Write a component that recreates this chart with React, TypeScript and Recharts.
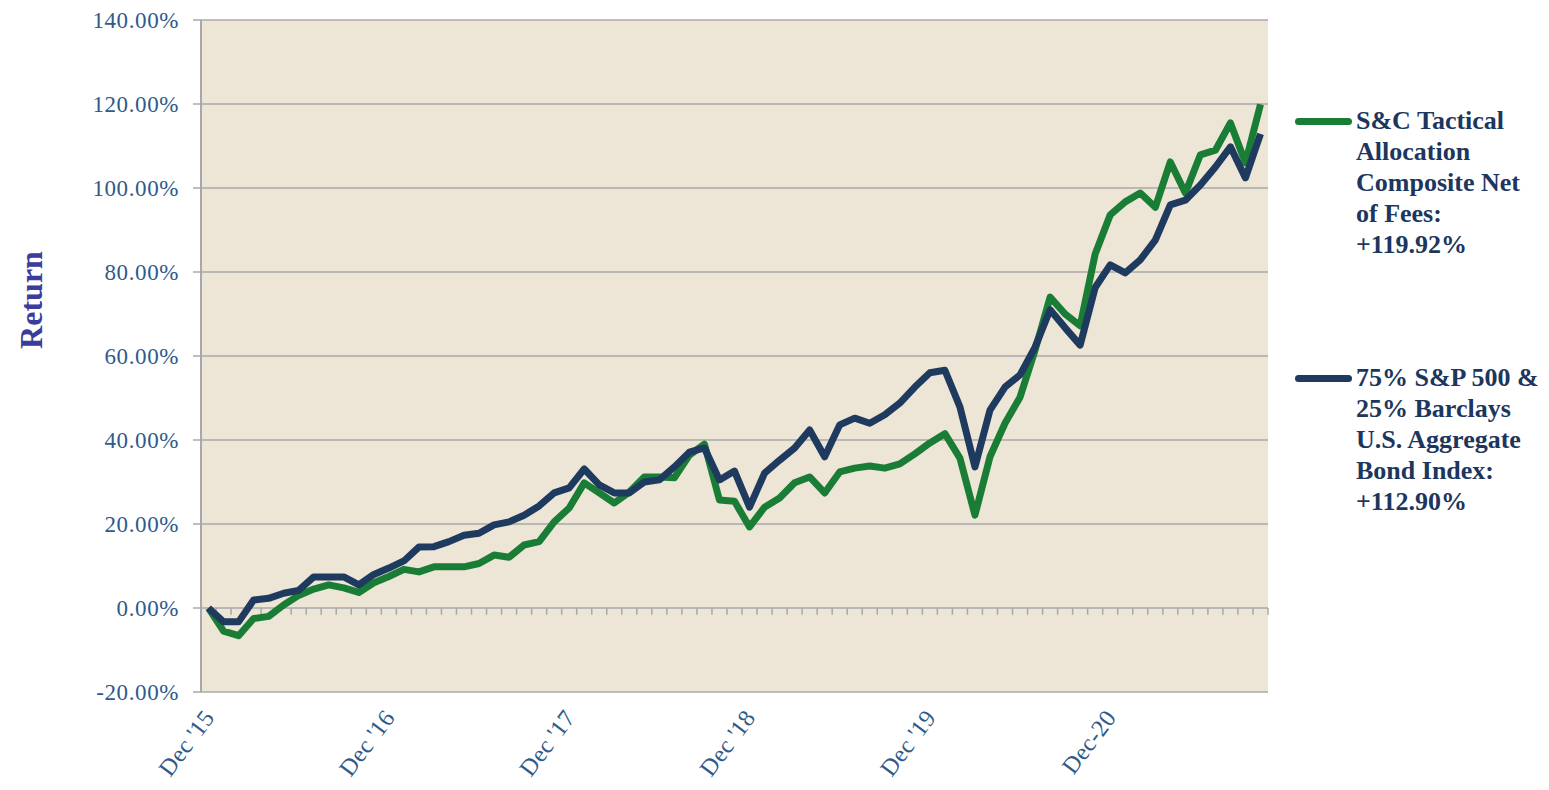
import React from 'react';
import { LineChart, Line, XAxis, YAxis, CartesianGrid, ReferenceLine } from 'recharts';

const months = [
  'Dec-15',
  'Jan-16', 'Feb-16', 'Mar-16', 'Apr-16', 'May-16', 'Jun-16', 'Jul-16', 'Aug-16', 'Sep-16', 'Oct-16', 'Nov-16', 'Dec-16',
  'Jan-17', 'Feb-17', 'Mar-17', 'Apr-17', 'May-17', 'Jun-17', 'Jul-17', 'Aug-17', 'Sep-17', 'Oct-17', 'Nov-17', 'Dec-17',
  'Jan-18', 'Feb-18', 'Mar-18', 'Apr-18', 'May-18', 'Jun-18', 'Jul-18', 'Aug-18', 'Sep-18', 'Oct-18', 'Nov-18', 'Dec-18',
  'Jan-19', 'Feb-19', 'Mar-19', 'Apr-19', 'May-19', 'Jun-19', 'Jul-19', 'Aug-19', 'Sep-19', 'Oct-19', 'Nov-19', 'Dec-19',
  'Jan-20', 'Feb-20', 'Mar-20', 'Apr-20', 'May-20', 'Jun-20', 'Jul-20', 'Aug-20', 'Sep-20', 'Oct-20', 'Nov-20', 'Dec-20',
  'Jan-21', 'Feb-21', 'Mar-21', 'Apr-21', 'May-21', 'Jun-21', 'Jul-21', 'Aug-21', 'Sep-21', 'Oct-21',
];

const composite = [
  0, -5.5, -6.6, -2.5, -2.0, 0.7, 3.0, 4.5, 5.5, 4.8, 3.7, 6.0, 7.5,
  9.2, 8.6, 9.8, 9.8, 9.8, 10.6, 12.6, 12.1, 15.0, 15.8, 20.5, 23.8,
  29.8, 27.4, 25.0, 27.6, 31.2, 31.2, 31.0, 36.4, 39.0, 25.7, 25.4, 19.3,
  24.0, 26.2, 29.8, 31.2, 27.4, 32.4, 33.3, 33.8, 33.3, 34.3, 36.7, 39.3,
  41.5, 35.7, 22.1, 36.0, 44.0, 50.2, 61.4, 74.0, 70.0, 67.2, 84.3, 93.6,
  96.7, 98.8, 95.4, 106.2, 98.8, 107.9, 109.0, 115.5, 106.0, 119.92,
];

const benchmark = [
  0, -3.3, -3.3, 1.9, 2.3, 3.5, 4.2, 7.4, 7.4, 7.4, 5.5, 8.0, 9.5,
  11.2, 14.5, 14.6, 15.8, 17.3, 17.8, 19.8, 20.5, 22.1, 24.3, 27.4, 28.6,
  33.1, 29.3, 27.4, 27.4, 30.0, 30.5, 33.6, 37.1, 38.1, 30.5, 32.6, 24.0,
  32.1, 35.2, 38.1, 42.4, 36.0, 43.6, 45.2, 44.0, 46.0, 48.8, 52.6, 56.0,
  56.6, 47.9, 33.6, 47.1, 52.6, 55.5, 62.1, 71.0, 66.7, 62.6, 76.3, 81.7,
  79.8, 82.9, 87.6, 96.0, 97.1, 100.7, 105.0, 109.8, 102.4, 112.9,
];

const yTicks = [-20, 0, 20, 40, 60, 80, 100, 120, 140];
const xTickIndex = [0, 12, 24, 36, 48, 60];
const xTickLabels = ["Dec '15", "Dec '16", "Dec '17", "Dec '18", "Dec '19", 'Dec-20'];

const legendComposite = ['S&C Tactical', 'Allocation', 'Composite Net', 'of Fees:', '+119.92%'];
const legendBenchmark = ['75% S&P 500 &', '25% Barclays', 'U.S. Aggregate', 'Bond Index:', '+112.90%'];

const data = months.map((m, i) => ({ idx: i, month: m, composite: composite[i], benchmark: benchmark[i] }));
const boundaries = [...months.map((_, i) => i - 0.5), months.length - 0.5];

const GREEN = '#1A7D35';
const NAVY = '#1F3A5F';
const GRID = '#A8A8A8';
const TICK_TEXT = '#2F5A8A';
const FONT = '"Liberation Serif", "Times New Roman", serif';

const XTick = (props: any) => {
  const { x, y, payload } = props;
  const pos = xTickIndex.indexOf(payload.value);
  const label = pos >= 0 ? xTickLabels[pos] : '';
  return (
    <g transform={`translate(${x + 7},${y + 18})`}>
      <text x={0} y={0} textAnchor="end" transform="rotate(-53)" fill={TICK_TEXT} fontSize={24} letterSpacing={0.3} fontFamily={FONT}>
        {label}
      </text>
    </g>
  );
};

const YLabel = () => (
  <text x={42} y={300} transform="rotate(-90, 42, 300)" textAnchor="middle" fill="#3B3C9C" fontSize={32} fontWeight="bold" fontFamily={FONT}>
    Return
  </text>
);

const LegendBlock = ({ top, color, lines }: { top: number; color: string; lines: string[] }) => (
  <div style={{ position: 'absolute', left: 1294, top }}>
    <div style={{ position: 'absolute', left: 1, top: 13, width: 57, height: 7, borderRadius: 3.5, background: color }} />
    <div
      style={{
        position: 'absolute',
        left: 62,
        top: 0,
        width: 200,
        fontFamily: FONT,
        fontWeight: 'bold',
        fontSize: 26,
        lineHeight: '31px',
        letterSpacing: 0,
        color: '#1C365E',
        whiteSpace: 'nowrap',
      }}
    >
      {lines.map((l) => (
        <div key={l}>{l}</div>
      ))}
    </div>
  </div>
);

export default function App() {
  return (
    <div style={{ position: 'absolute', left: 0, top: 0, width: 1549, height: 790, background: '#fff' }}>
      <LineChart
        width={1549}
        height={790}
        data={data}
        margin={{ top: 20, right: 281, bottom: 0, left: 101 }}
        style={{ fontFamily: FONT }}
      >
        <CartesianGrid horizontal vertical={false} stroke={GRID} strokeWidth={1.5} fill="#EDE5D6" fillOpacity={1} />
        <XAxis
          dataKey="idx"
          type="number"
          domain={[-0.5, months.length - 0.5]}
          ticks={xTickIndex}
          interval={0}
          tick={<XTick />}
          axisLine={false}
          tickLine={false}
          height={98}
        />
        <YAxis
          domain={[-20, 140]}
          ticks={yTicks}
          interval={0}
          width={100}
          axisLine={{ stroke: GRID, strokeWidth: 2 }}
          tickLine={{ stroke: GRID, strokeWidth: 1.5 }}
          tickSize={8}
          tickMargin={14}
          tick={{ fill: TICK_TEXT, fontSize: 23, letterSpacing: 0.6, fontFamily: FONT }}
          tickFormatter={(v: number) => `${v.toFixed(2)}%`}
          label={<YLabel />}
        />
        {boundaries.map((b) => (
          <ReferenceLine
            key={b}
            segment={[
              { x: b, y: 0 },
              { x: b, y: -1.6 },
            ]}
            stroke={GRID}
            strokeWidth={1.5}
          />
        ))}
        <Line
          type="linear"
          dataKey="composite"
          stroke={GREEN}
          strokeWidth={7}
          dot={false}
          strokeLinejoin="round"
          isAnimationActive={false}
        />
        <Line
          type="linear"
          dataKey="benchmark"
          stroke={NAVY}
          strokeWidth={7}
          dot={false}
          strokeLinejoin="round"
          isAnimationActive={false}
        />
      </LineChart>
      <LegendBlock top={105} color={GREEN} lines={legendComposite} />
      <LegendBlock top={362} color={NAVY} lines={legendBenchmark} />
    </div>
  );
}
